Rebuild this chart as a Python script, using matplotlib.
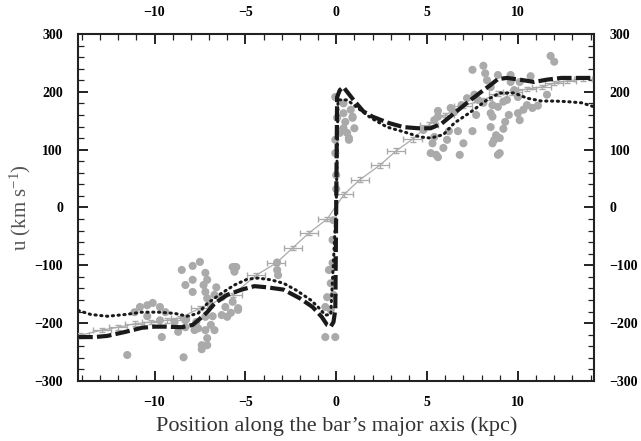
import numpy as np
import matplotlib
matplotlib.use("Agg")
import matplotlib.pyplot as plt
from matplotlib.ticker import MultipleLocator

# --- observed points (grey) ---
obs_x = [11.8, 12.0, 7.5, 8.1, 8.2, 8.3, 8.9, 9.6, 10.7, 8.5, 7.6, 7.2, 6.9, 5.6, 5.4, 4.8,
         5.4, 5.3, 5.9, 5.2, 5.6, 6.8, 7.0, 6.7, 7.5, 6.2, 6.1, 7.7, 8.6, 8.5, 8.8, 8.6,
         9.2, 9.3, 9.5, 10.0, 10.3, 10.8, 10.1, 8.9, 9.4, 9.0, 8.9, 9.8, 10.0, 10.5, 11.1,
         11.6, 8.6, 8.1, 9.2, 10.1, 9.6, 7.8, 6.3, 6.5, 5.6, 8.5, 9.0, 8.7, 5.5,
         -0.05, 0.4, 0.8, 0.9, 0.5, 1.0, 0.7, 0.2, 0.4, 0.05, 0.4, 0.9, 0.6, 0.7, 0.2,
         0.0, 0.0, -0.05, -0.05, -0.2, -0.4, -0.3, -0.5, -0.6, -0.3, -0.6, -0.05, -0.15,
         -0.2, -0.15, -3.25, -3.25, -3.2, -5.7, -5.6,
         -7.5, -7.9, -8.5, -5.6, -8.3, -7.9, -7.3, -7.9, -7.2, -7.1, -7.1, -6.9, -10.1,
         -10.4, -10.8, -9.7, -9.4, -11.1, -10.4, -9.7, -8.9, -8.3, -7.7, -7.2, -6.8, -8.7,
         -8.3, -7.8, -7.2, -7.1, -7.4, -6.9, -6.7, -9.6, -11.5, -8.4, -6.3, -6.1, -5.7,
         -5.4, -6.3, -6.7, -6.6, -7.2, -7.6, -6.0, -5.8, -5.4, -5.5, -7.1, -7.4]
obs_u = [262, 252, 238, 245, 232, 220, 229, 229, 227, 208, 195, 189, 177, 167, 151, 134,
         122, 111, 103, 94, 87, 91, 111, 132, 132, 132, 117, 160, 157, 139, 125, 111,
         136, 148, 160, 163, 169, 172, 151, 174, 186, 94, 91, 203, 191, 177, 176,
         195, 177, 181, 183, 217, 217, 186, 172, 165, 157, 163, 120, 117, 91,
         191, 180, 169, 157, 148, 137, 117, 129, 137, 155, 163, 155, 129, 120, 131,
         56, 32, 94, 117, -56, -108, -131, -155, -172, -177, -224, -224, -151,
         -96, -22, -95, -108, -117, -103, -111,
         -94, -101, -108, -103, -134, -125, -134, -146, -146, -125, -157, -169, -165,
         -169, -172, -172, -181, -181, -188, -195, -198, -195, -198, -189, -188, -215,
         -207, -212, -212, -226, -238, -203, -212, -224, -255, -259, -186, -172, -163,
         -177, -155, -151, -138, -113, -209, -189, -182, -174, -103, -238, -245]

# --- binned curve with error bars ---
bin_x = [-14.1, -12.9, -12.0, -11.1, -10.2, -9.3, -8.6, -7.5, -5.7, -4.4, -3.3, -2.4,
         -1.5, -0.5, 0.44, 1.3, 2.4, 3.3, 4.2, 5.1, 6.0, 7.0, 8.1, 8.9, 9.7, 10.5, 11.3,
         12.0, 12.7, 13.6]
bin_u = [-221, -212, -207, -201, -198, -195, -191, -174, -151, -117, -96, -70,
         -44, -20, 23, 48, 73, 98, 118, 143, 160, 176, 186, 197, 199, 205, 208,
         215, 219, 222]

# --- model 1 (dashed) ---
m1_x = [-14.2, -13.3, -12.6, -11.6, -10.7, -10.0, -9.4, -8.5, -7.9, -7.6, -7.1, -6.7,
        -6.0, -5.2, -4.5, -3.8, -2.9, -2.0, -1.3, -0.8, -0.5, -0.3, -0.15, -0.05, 0.0,
        0.05, 0.2, 0.4, 0.95, 1.5, 2.0, 2.9, 3.7, 4.5, 5.2, 5.8, 6.5, 7.2, 7.9, 8.5,
        8.9, 9.4, 10.1, 10.9, 11.6, 12.4, 13.3, 14.2]
m1_u = [-224, -224, -222, -215, -208, -206, -206, -207, -203, -195, -181, -166,
        -151, -142, -136, -138, -142, -157, -172, -189, -203, -206, -198, -177, 0,
        191, 203, 208, 186, 166, 157, 146, 139, 137, 137, 145, 163, 181, 198, 212,
        222, 224, 221, 217, 221, 224, 224, 224]

# --- model 2 (dotted) ---
m2_x = [-14.2, -13.5, -12.6, -11.6, -10.7, -9.8, -8.9, -8.2, -7.6, -7.1, -6.3, -5.6,
        -4.9, -4.3, -3.6, -2.9, -2.2, -1.4, -1.0, -0.6, -0.3, 0.0, 0.1, 0.6, 1.1, 1.9,
        2.8, 3.7, 4.6, 5.2, 5.9, 6.5, 7.4, 8.3, 9.0, 9.8, 10.5, 11.3, 12.0, 12.7, 13.5,
        14.2]
m2_u = [-178, -185, -188, -185, -181, -181, -183, -188, -183, -166, -148, -134,
        -124, -122, -125, -131, -143, -160, -172, -186, -185, 0, 186, 186, 174, 155,
        139, 131, 122, 120, 126, 146, 165, 186, 198, 198, 189, 184, 184, 183, 181,
        174]

serif = "Liberation Serif"
plt.rcParams["mathtext.fontset"] = "custom"
plt.rcParams["mathtext.rm"] = serif
plt.rcParams["mathtext.it"] = serif + ":italic"

fig = plt.figure(figsize=(6.41, 4.41), dpi=100)
ax = fig.add_axes([0.122, 0.136, 0.805, 0.787])

ax.scatter(obs_x, obs_u, s=34, color="#aaaaaa", edgecolors="none", zorder=2)
ax.errorbar(bin_x, bin_u, xerr=0.5, yerr=4, color="#aaaaaa", lw=0.9, elinewidth=0.9,
            capsize=2, zorder=3)
ax.plot(m1_x, m1_u, color="#1a1a1a", lw=3.0, dashes=(3.5, 1.0), zorder=4)
ax.plot(m2_x, m2_u, color="#1a1a1a", lw=2.2, linestyle=(0, (0.4, 1.5)),
        dash_capstyle="round", zorder=4)

ax.set_xlim(-14.2, 14.2)
ax.set_ylim(-300, 300)
ax.xaxis.set_major_locator(MultipleLocator(5))
ax.xaxis.set_minor_locator(MultipleLocator(1))
ax.yaxis.set_major_locator(MultipleLocator(100))
ax.yaxis.set_minor_locator(MultipleLocator(20))
ax.tick_params(which="both", direction="in", top=True, right=True,
               labeltop=True, labelright=True, color="#222222")
ax.tick_params(which="major", length=7, width=1.4, pad=11)
ax.tick_params(which="minor", length=4, width=0.9)
for lab in ax.get_xticklabels() + ax.get_yticklabels():
    lab.set_fontfamily(serif)
    lab.set_fontweight("bold")
    lab.set_fontsize(10)
for sp in ax.spines.values():
    sp.set_linewidth(1.5)
    sp.set_color("#222222")

ax.set_xlabel("Position along the bar\u2019s major axis (kpc)", fontfamily=serif,
              fontsize=16, color="#333333", labelpad=5)
ax.set_ylabel("u (km s$^{-1}$)", fontfamily=serif, fontsize=15, color="#555555",
              labelpad=1)

fig.savefig("out.png", dpi=100)
